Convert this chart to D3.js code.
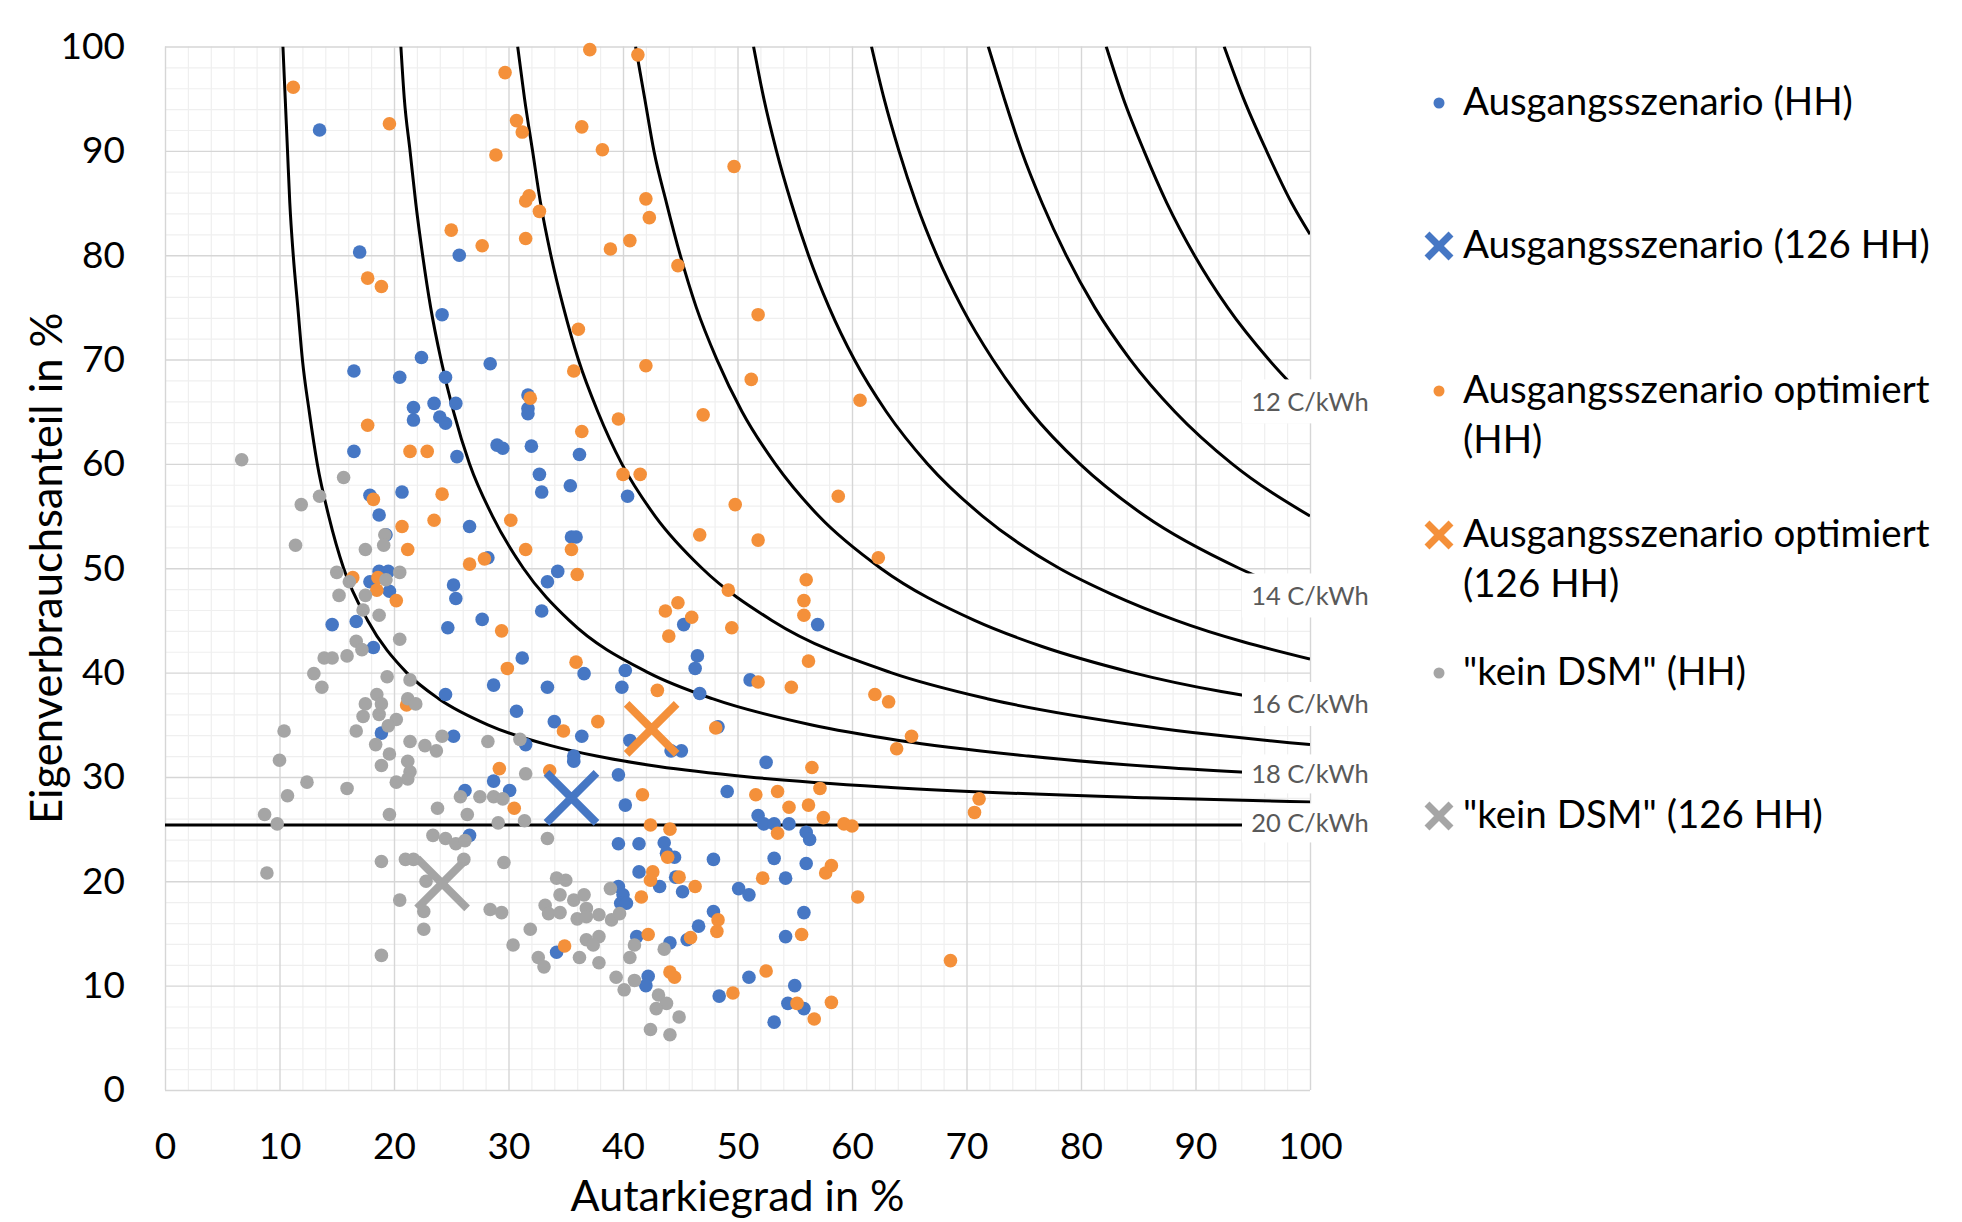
<!DOCTYPE html>
<html><head><meta charset="utf-8">
<script src="https://cdn.jsdelivr.net/npm/d3@7"></script>
<style>body{margin:0;background:#fff} svg{display:block}</style>
</head><body>
<svg id="chart" width="1962" height="1222"></svg>
<script>
// ---------------- data ----------------
const xTicks = [0,10,20,30,40,50,60,70,80,90,100];
const yTicks = [0,10,20,30,40,50,60,70,80,90,100];

const blueHH = [
[13.5,92.0],[17.0,80.3],[25.7,80.0],[24.2,74.3],[22.4,70.2],[28.4,69.6],[16.5,68.9],[20.5,68.3],[24.5,68.3],[23.5,65.8],[25.4,65.8],[21.7,65.4],[21.7,64.2],[24.0,64.5],[24.5,63.9],[31.7,66.6],[31.7,65.3],[31.7,64.8],
[32.0,61.7],[29.0,61.8],[29.5,61.5],[16.5,61.2],[25.5,60.7],[36.2,60.9],[32.7,59.0],[32.9,57.3],[35.4,57.9],[40.4,56.9],[20.7,57.3],[17.9,57.0],[18.7,55.1],[26.6,54.0],[19.3,53.2],[35.5,53.0],[35.9,53.0],[28.2,51.0],[18.7,49.7],[19.5,49.7],[34.3,49.7],[33.4,48.7],[17.9,48.7],[19.6,47.8],[25.2,48.4],[25.4,47.1],[32.9,45.9],[27.7,45.1],[24.7,44.3],[14.6,44.6],[16.7,44.9],[18.2,42.4],[31.2,41.4],[36.6,39.9],[40.2,40.2],[28.7,38.8],[33.4,38.6],[39.9,38.6],[24.5,37.9],[30.7,36.3],[34.0,35.3],[36.4,33.9],[25.2,33.9],[18.9,34.2],[31.5,33.1],[40.6,33.5],[35.7,32.0],[35.7,31.5],[39.6,30.2],[28.7,29.6],[30.1,28.7],[26.2,28.7],[40.2,27.3],
[45.3,44.6],[57.0,44.6],[46.5,41.6],[46.3,40.4],[46.7,38.0],[51.1,39.3],[48.3,34.8],[44.2,32.5],[45.1,32.5],[52.5,31.4],[49.1,28.6],
[26.6,24.4],[39.6,23.6],[41.4,23.6],[43.6,23.7],[47.9,22.1],[43.8,22.7],[44.5,22.3],[41.4,20.9],[44.6,20.4],[43.2,19.5],[39.6,19.5],[40.0,18.7],[39.8,17.9],[40.3,17.9],[45.2,19.0],[50.1,19.3],[47.9,17.1],[46.6,15.7],[45.6,14.4],[44.1,14.1],[41.2,14.7],[34.2,13.2],[42.2,10.9],[42.0,10.0],[48.4,9.0],
[51.8,26.3],[52.3,25.5],[53.2,25.5],[54.5,25.5],[56.0,24.7],[56.3,24.0],[53.2,22.2],[56.0,21.7],[54.2,20.3],[51.0,18.7],[55.8,17.0],[54.2,14.7],[51.0,10.8],[55.0,10.0],[54.4,8.3],[55.8,7.8],[53.2,6.5]
];

const orangeHH = [
[11.2,96.1],[19.6,92.6],[29.7,97.5],[37.1,99.7],[41.3,99.2],[30.7,92.9],[31.2,91.8],[36.4,92.3],[38.2,90.1],[28.9,89.6],[31.8,85.7],[31.5,85.2],[32.7,84.2],[25.0,82.4],[27.7,80.9],[31.5,81.6],[38.9,80.6],[40.6,81.4],[17.7,77.8],[18.9,77.0],[36.1,72.9],[35.7,68.9],[31.9,66.3],[17.7,63.7],[36.4,63.1],[39.6,64.3],
[49.7,88.5],[42.0,85.4],[42.3,83.6],[44.8,79.0],[51.8,74.3],[42.0,69.4],[51.2,68.1],[60.7,66.1],[47.0,64.7],
[21.4,61.2],[22.9,61.2],[24.2,57.1],[18.2,56.6],[40.0,59.0],[41.5,59.0],[23.5,54.6],[20.7,54.0],[30.2,54.6],[21.2,51.8],[31.5,51.8],[35.5,51.8],[26.6,50.4],[27.9,50.9],[36.0,49.4],[16.4,49.1],[18.6,49.1],[18.5,47.9],[20.2,46.9],[29.4,44.0],[29.9,40.4],[35.9,41.0],[21.1,36.9],[37.8,35.3],[34.8,34.4],[29.2,30.8],[33.6,30.6],[41.7,28.3],[30.5,27.0],
[49.8,56.1],[58.8,56.9],[46.7,53.2],[51.8,52.7],[62.3,51.0],[56.0,48.9],[49.2,47.9],[55.8,46.9],[55.8,45.5],[44.8,46.7],[43.7,45.9],[46.0,45.3],[49.5,44.3],[44.0,43.5],[56.2,41.1],[51.8,39.1],[54.7,38.6],[43.0,38.3],[62.0,37.9],[63.2,37.2],[48.1,34.7],[65.2,33.9],[63.9,32.7],[56.5,30.9],[51.6,28.3],[53.5,28.6],[57.2,28.9],[71.1,27.9],[54.5,27.1],[56.2,27.3],
[42.4,25.4],[44.1,25.0],[43.9,22.3],[42.6,20.9],[42.4,20.1],[44.9,20.4],[46.3,19.5],[41.6,18.5],[48.3,16.3],[48.2,15.2],[45.9,14.6],[42.2,14.9],[34.9,13.8],[44.1,11.3],[44.5,10.8],[49.6,9.3],
[57.5,26.1],[59.3,25.5],[60.0,25.3],[53.5,24.6],[70.7,26.6],[58.2,21.5],[57.7,20.8],[52.2,20.3],[60.5,18.5],[55.6,14.9],[52.5,11.4],[55.2,8.3],[58.2,8.4],[56.7,6.8],[68.6,12.4]
];

const grayHH = [
[6.7,60.4],[15.6,58.7],[13.5,56.9],[11.9,56.1],[11.4,52.2],[19.2,53.2],[19.1,52.2],[17.5,51.8],[15.0,49.6],[16.1,48.7],[20.5,49.6],[19.3,48.9],[15.2,47.4],[17.5,47.4],[17.3,46.0],[18.7,45.5],[20.5,43.2],[16.7,43.0],[17.2,42.2],[13.9,41.4],[14.6,41.4],[15.9,41.6],[13.0,39.9],[13.7,38.6],[19.4,39.6],[21.4,39.3],[18.5,37.9],[21.2,37.5],[21.9,37.0],[17.5,37.0],[18.9,37.0],[18.7,36.0],[17.3,35.8],[20.2,35.5],[19.5,34.9],[10.4,34.4],[16.7,34.4],[21.4,33.4],[22.7,33.0],[23.7,32.5],[24.2,33.9],[18.4,33.1],[19.6,32.2],[28.2,33.4],[31.0,33.6],[10.0,31.6],[21.2,31.5],[18.9,31.1],[21.4,30.5],[21.2,29.8],[20.2,29.5],[12.4,29.5],[15.9,28.9],[10.7,28.2],[31.5,30.3],[25.8,28.1],[27.5,28.1],[28.7,28.1],[29.5,27.9],[23.8,27.0],
[8.7,26.4],[9.8,25.5],[8.9,20.8],
[19.6,26.4],[26.4,26.4],[29.1,25.6],[31.4,25.8],[33.4,24.1],[23.4,24.4],[24.5,24.1],[25.4,23.6],[26.2,23.9],[18.9,21.9],[21.0,22.1],[21.7,22.1],[26.1,22.1],[29.6,21.8],[22.8,20.0],[20.5,18.2],[22.6,17.1],[22.6,15.4],[28.4,17.3],[29.4,17.0],[34.2,20.3],[35.0,20.1],[34.5,18.7],[35.7,18.2],[36.6,18.7],[33.2,17.7],[33.5,16.9],[34.5,17.0],[36.0,16.4],[36.8,17.4],[36.8,16.6],[37.9,16.8],[38.9,19.3],[39.0,16.3],[39.7,16.9],[31.9,15.4],[30.4,13.9],[32.6,12.7],[33.1,11.8],[36.2,12.7],[36.8,14.4],[37.9,14.7],[37.4,13.9],[37.9,12.2],[41.0,13.9],[40.6,12.7],[43.6,13.5],[39.4,10.8],[41.0,10.5],[40.1,9.6],[43.1,9.1],[43.8,8.3],[42.9,7.8],[44.9,7.0],[42.4,5.8],[44.1,5.3],[18.9,12.9]
];

const blue126 = [[35.5,28.0]];
const orange126 = [[42.5,34.6]];
const gray126 = [[24.2,19.8]];

// iso-cost lines (C/kWh)
const iso11 = [[92.5,100],[94.2,95],[96.2,90],[98.4,85],[100,82.0]];
const iso12 = [[82.2,100],[83.7,95],[85.5,90],[87.5,85],[89.9,80],[92.8,75],[96.4,70],[100,65.8]];
const iso13 = [[71.9,100],[73.3,95],[74.8,90],[76.6,85],[78.7,80],[81.2,75],[84.3,70],[88.2,65],[93.2,60],[100,55.0]];
const iso14 = [[61.7,100],[62.8,95],[64.1,90],[65.6,85],[67.4,80],[69.6,75],[72.3,70],[75.6,65],[79.9,60],[85.6,55],[93.8,50],[100,47.2]];
const iso15 = [[51.4,100],[52.3,95],[53.4,90],[54.7,85],[56.2,80],[58.0,75],[60.2,70],[63.0,65],[66.6,60],[71.4,55],[78.1,50],[82.7,47.5],[88.3,45],[100,41.3]];
const iso16 = [[41.1,100],[41.9,95],[42.7,90],[43.8,85],[45.0,80],[46.4,75],[48.2,70],[50.4,65],[53.3,60],[57.1,55],[62.5,50],[70.7,45],[76.6,42.5],[84.5,40],[100,36.8]];
const iso17 = [[30.8,100],[31.4,95],[32.1,90],[32.8,85],[33.7,80],[34.8,75],[36.1,70],[37.8,65],[39.9,60],[42.8,55],[46.9,50],[53.0,45],[63.4,40],[71.8,37.5],[84.6,35],[100,33.1]];
const iso18 = [[20.6,100],[20.9,95],[21.4,90],[21.9,85],[22.5,80],[23.2,75],[24.1,70],[25.2,65],[26.6,60],[28.6,55],[31.3,50],[35.3,45],[42.2,40],[47.8,37.5],[56.4,35],[64.1,33.5],[75.4,32],[100,30.1]];
const iso19 = [[10.3,100],[10.5,95],[10.7,90],[10.9,85],[11.2,80],[11.6,75],[12.0,70],[12.6,65],[13.3,60],[14.3,55],[15.6,50],[17.7,45],[21.1,40],[23.9,37.5],[28.2,35],[33.7,33],[37.7,32],[43.1,31],[51.0,30],[63.4,29],[85.7,28],[100,27.6]];
const iso20 = [[0,25.4],[100,25.4]];
const isoCosts = [11,12,13,14,15,16,17,18,19,20];
const isoLabelled = [12,14,16,18,20];

const legendLabels = [
  ["Ausgangsszenario (HH)"],
  ["Ausgangsszenario (126 HH)"],
  ["Ausgangsszenario optimiert","(HH)"],
  ["Ausgangsszenario optimiert","(126 HH)"],
  ["\"kein DSM\" (HH)"],
  ["\"kein DSM\" (126 HH)"]
];

// ---------------- drawing ----------------
const isoLines = [iso11,iso12,iso13,iso14,iso15,iso16,iso17,iso18,iso19,iso20]
  .map((pts,i)=>({cost:isoCosts[i], pts}));

const BLUE = "#4677C4", ORANGE = "#F4903A", GRAY = "#A5A5A5";
const FONT = "Lato, 'Open Sans', sans-serif";

const svg = d3.select("#chart");
const X0 = 165, X1 = 1310, Y0 = 1090, Y1 = 46.5;
const x = d3.scaleLinear().domain([0,100]).range([X0,X1]);
const y = d3.scaleLinear().domain([0,100]).range([Y0,Y1]);

svg.append("rect").attr("width",1962).attr("height",1222).attr("fill","#fff");

// grid
const minorTicks = d3.range(0,101,2).filter(v=>v%10!==0);
function grid(vals, color, w){
  const gx = svg.append("g").attr("transform",`translate(0,${Y0})`)
    .call(d3.axisBottom(x).tickValues(vals).tickSize(-(Y0-Y1)).tickFormat(""));
  gx.select(".domain").remove();
  gx.selectAll("line").attr("stroke",color).attr("stroke-width",w);
  const gy = svg.append("g").attr("transform",`translate(${X0},0)`)
    .call(d3.axisLeft(y).tickValues(vals).tickSize(-(X1-X0)).tickFormat(""));
  gy.select(".domain").remove();
  gy.selectAll("line").attr("stroke",color).attr("stroke-width",w);
}
grid(minorTicks, "#EFEFEF", 1.2);
grid(xTicks, "#D6D6D6", 1.4);

// tick labels
const ax = svg.append("g").attr("transform",`translate(0,${Y0})`)
  .call(d3.axisBottom(x).tickValues(xTicks).tickSize(0).tickPadding(43).tickFormat(d3.format("d")));
ax.select(".domain").remove();
ax.selectAll("text").attr("font-family",FONT).attr("font-size",37).attr("fill","#000");
const ay = svg.append("g").attr("transform",`translate(${X0},0)`)
  .call(d3.axisLeft(y).tickValues(yTicks).tickSize(0).tickPadding(40).tickFormat(d3.format("d")));
ay.select(".domain").remove();
ay.selectAll("text").attr("font-family",FONT).attr("font-size",37).attr("fill","#000");

// axis titles
svg.append("text").attr("x",(X0+X1)/2).attr("y",1211).attr("text-anchor","middle")
  .attr("font-family",FONT).attr("font-size",43).attr("fill","#000").text("Autarkiegrad in %");
svg.append("text").attr("transform",`translate(62,${(Y0+Y1)/2}) rotate(-90)`).attr("text-anchor","middle")
  .attr("font-family",FONT).attr("font-size",43.5).attr("fill","#000").text("Eigenverbrauchsanteil in %");

// clip
svg.append("clipPath").attr("id","plotclip").append("rect")
  .attr("x",X0).attr("y",Y1).attr("width",X1-X0).attr("height",Y0-Y1);

// iso lines
const line = d3.line().x(d=>x(d[0])).y(d=>y(d[1])).curve(d3.curveMonotoneX);
svg.append("g").attr("clip-path","url(#plotclip)").selectAll("path").data(isoLines).join("path")
  .attr("d",d=>line(d.pts)).attr("fill","none").attr("stroke","#000").attr("stroke-width",3);

// dots
function dots(data,color){
  svg.append("g").selectAll("circle").data(data).join("circle")
    .attr("cx",d=>x(d[0])).attr("cy",d=>y(d[1])).attr("r",6.8).attr("fill",color);
}
dots(blueHH,BLUE);
dots(orangeHH,ORANGE);
dots(grayHH,GRAY);

// cross markers
function crossPath(h){ return `M${-h},${-h}L${h},${h}M${-h},${h}L${h},${-h}`; }
function crosses(data,color){
  svg.append("g").selectAll("path").data(data).join("path")
    .attr("transform",d=>`translate(${x(d[0])},${y(d[1])})`)
    .attr("d",crossPath(25)).attr("stroke",color).attr("stroke-width",8).attr("fill","none");
}
crosses(blue126,BLUE);
crosses(orange126,ORANGE);
crosses(gray126,GRAY);

// iso labels with white boxes
const labG = svg.append("g");
isoLines.filter(d=>isoLabelled.includes(d.cost)).forEach(d=>{
  const last = d.pts[d.pts.length-1];
  const cx = x(last[0]), cy = y(last[1]) - 2;
  const hh = d.cost>=18 ? 19.5 : 22;
  labG.append("rect").attr("x",cx-68).attr("y",cy-hh).attr("width",136).attr("height",2*hh).attr("fill","#fff");
  labG.append("text").attr("x",cx).attr("y",cy).attr("dy","0.36em").attr("text-anchor","middle")
    .attr("font-family",FONT).attr("font-size",25.5).attr("fill","#595959").text(`${d.cost} C/kWh`);
});

// legend
const legY = [115,258,403,547,685,828];
const legSym = [["dot",BLUE],["x",BLUE],["dot",ORANGE],["x",ORANGE],["dot",GRAY],["x",GRAY]];
const lg = svg.append("g");
legendLabels.forEach((lines,i)=>{
  const by = legY[i];
  const [kind,col] = legSym[i];
  if(kind==="dot"){
    lg.append("circle").attr("cx",1439).attr("cy",by-12).attr("r",5.5).attr("fill",col);
  } else {
    lg.append("path").attr("transform",`translate(1439,${by-12})`).attr("d",crossPath(12))
      .attr("stroke",col).attr("stroke-width",7).attr("fill","none");
  }
  lines.forEach((t,j)=>{
    lg.append("text").attr("x",1463).attr("y",by+j*50).attr("font-family",FONT).attr("font-size",38.5)
      .attr("fill","#000").text(t);
  });
});
</script>
</body></html>
